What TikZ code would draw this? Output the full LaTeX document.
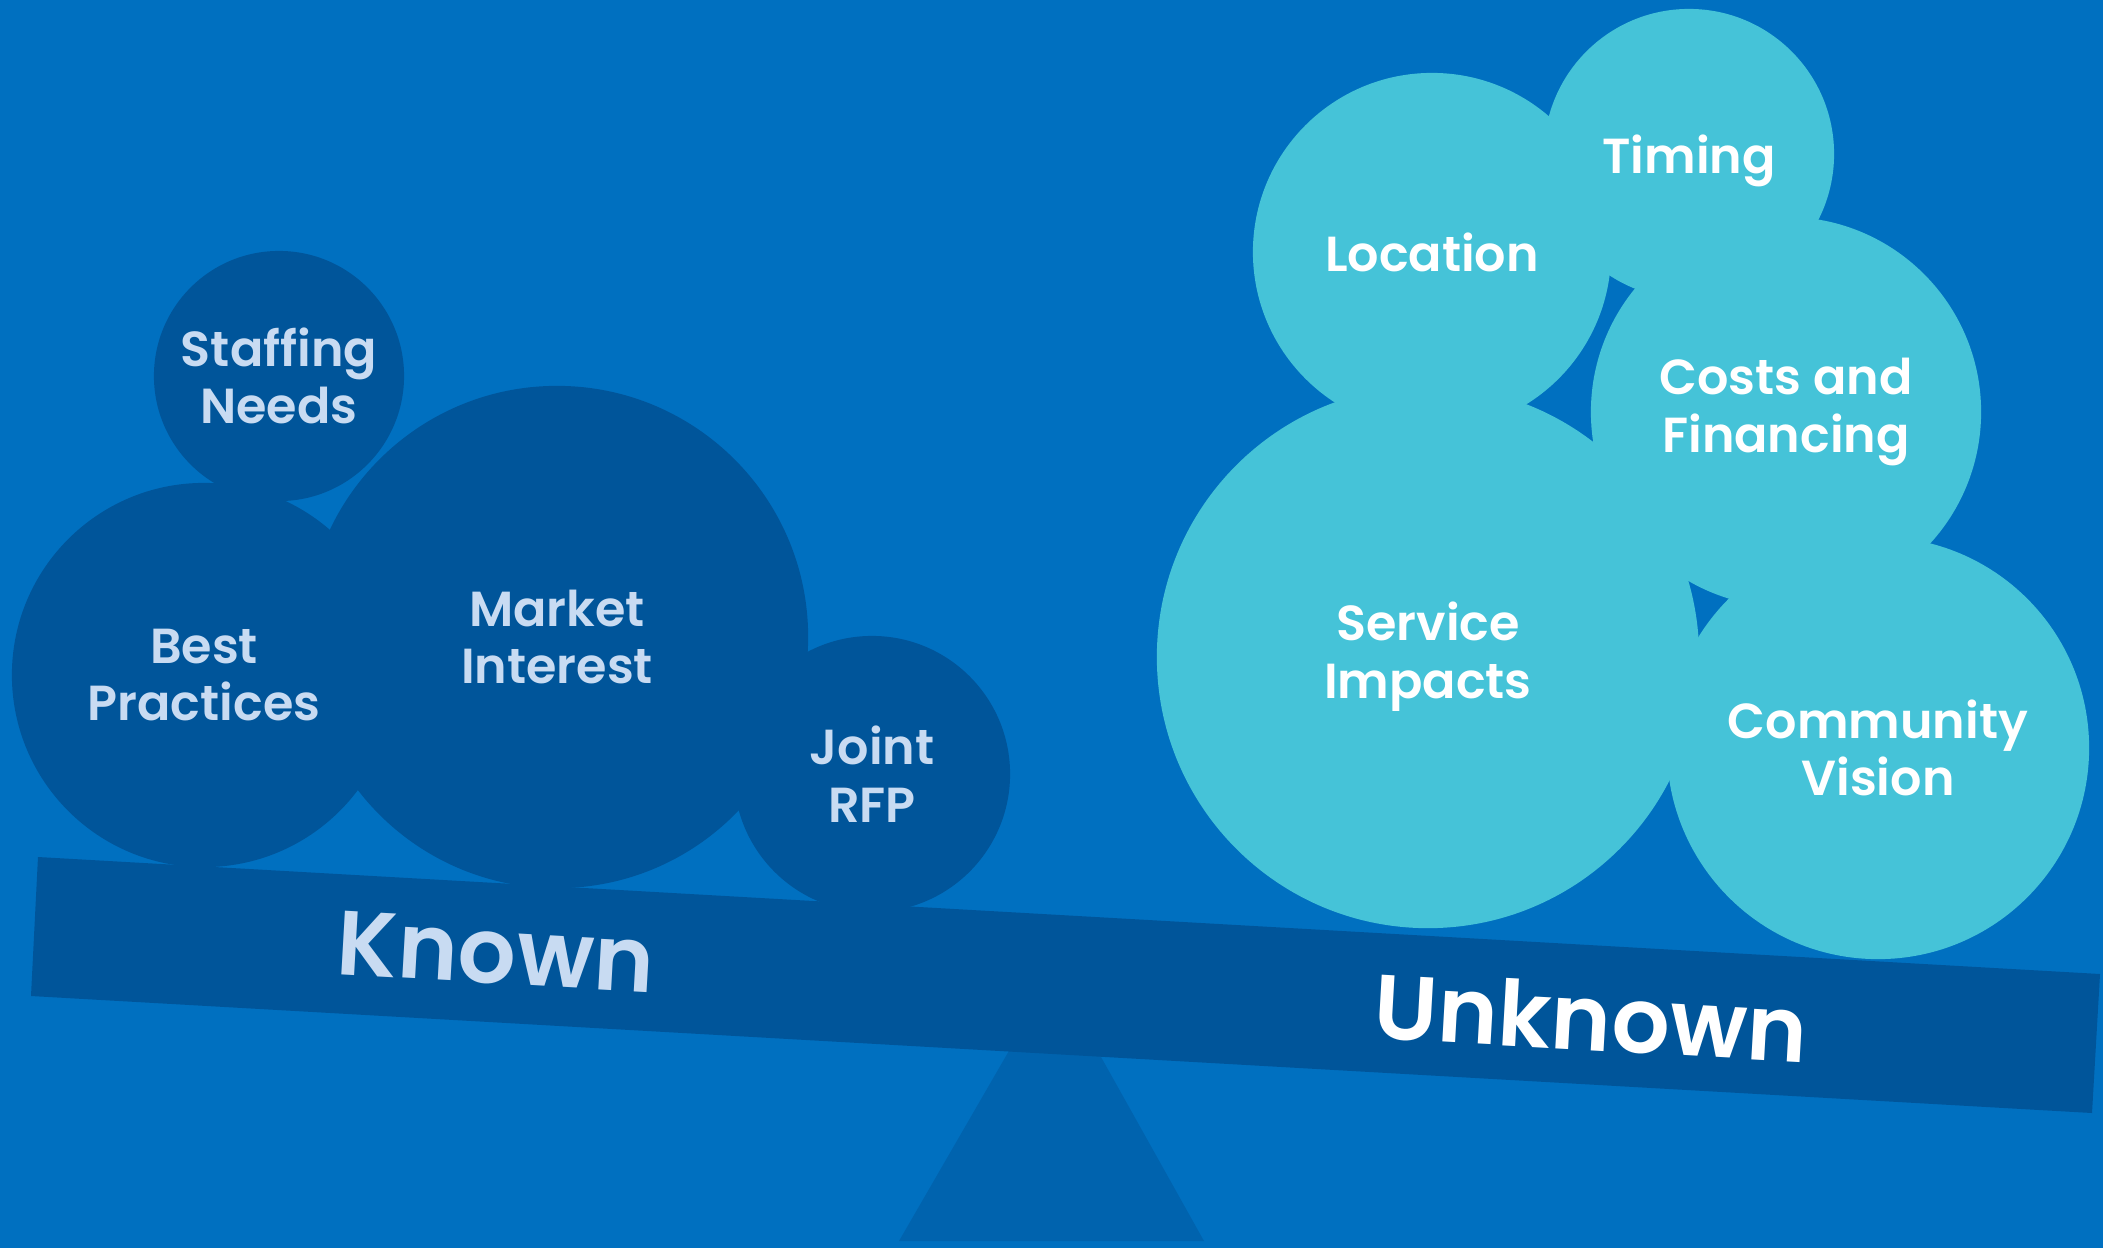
\documentclass[tikz,border=0pt]{standalone}
\usepackage{fontspec}
\setmainfont{Poppins}[BoldFont={* SemiBold}]
\definecolor{skyblue}{HTML}{0070C0}
\definecolor{deepblue}{HTML}{00559A}
\definecolor{standblue}{HTML}{0063AE}
\definecolor{teal}{HTML}{45C3D8}
\definecolor{paleblue}{HTML}{C8DBF2}

\begin{document}
\begin{tikzpicture}[x=0.01cm,y=-0.01cm,
  known/.style={circle,fill=deepblue,text=paleblue,align=center,inner sep=0pt,
    font=\fontsize{14}{16.4}\selectfont\bfseries},
  unknown/.style={circle,fill=teal,text=white,align=center,inner sep=0pt,
    font=\fontsize{14}{16.4}\selectfont\bfseries},
  side/.style={font=\fontsize{26}{28}\selectfont\bfseries,rotate=-3.25}]
% background
\fill[skyblue] (0,0) rectangle (2103,1248);
\useasboundingbox (0,0) rectangle (2103,1248);
% stand
\fill[standblue] (1054,973) -- (1204,1241) -- (899,1241) -- cycle;
% plank
\coordinate (tl) at (38,857);
\coordinate (tr) at (2100,974);
\coordinate (br) at (2092,1113);
\coordinate (bl) at (31,996);
\fill[deepblue] (tl) -- (tr) -- (br) -- (bl) -- cycle;
% known side
\node[known,minimum size=5.02cm] (market) at (557,637) {Market\\Interest};
\node[known,minimum size=2.76cm] (joint) at (872,774) {Joint\\RFP};
\node[known,minimum size=3.84cm] (best) at (204,675) {Best\\Practices};
\node[known,minimum size=2.50cm] (staffing) at (279,376) {Staffing\\Needs};
% unknown side
\node[unknown,minimum size=3.58cm] (location) at (1432,252) {Location};
\node[unknown,minimum size=2.90cm,text depth=0pt] (timing) at (1689,154) {Timing};
\node[unknown,minimum size=3.90cm] (costs) at (1786,412) {Costs and\\Financing};
\node[unknown,minimum size=5.42cm] (service) at (1428,657) {Service\\Impacts};
\node[unknown,minimum size=4.22cm] (vision) at (1878,748) {Community\\Vision};
% labels on the plank
\node[side,text=paleblue] (knownlbl) at (496,952) {Known};
\node[side,text=white] (unknownlbl) at (1591,1017) {Unknown};
\end{tikzpicture}
\end{document}
